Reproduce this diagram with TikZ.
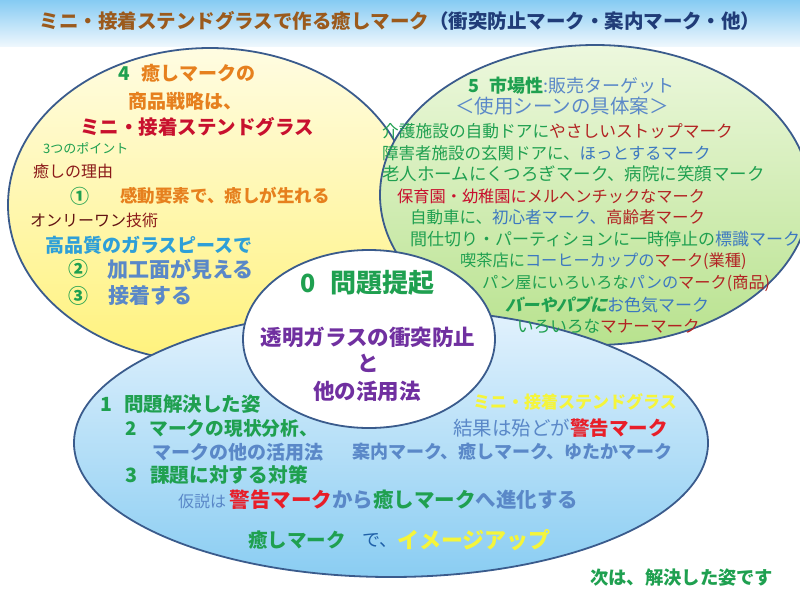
\documentclass[tikz,border=0pt]{standalone}
\usepackage{fontspec}
\setmainfont{Noto Sans CJK JP}
\usetikzlibrary{shapes.geometric}
\definecolor{cgreen}{HTML}{1FA050}
\definecolor{corange}{HTML}{E6801E}
\definecolor{ccrimson}{HTML}{C8102E}
\definecolor{cbrown}{HTML}{8B1A1A}
\definecolor{csky}{HTML}{2E9FD8}
\definecolor{cslate}{HTML}{5A88C8}
\definecolor{cpurple}{HTML}{7030A0}
\definecolor{cred}{HTML}{E81E28}
\definecolor{cyellow}{HTML}{F5F53A}
\definecolor{cdarkred}{HTML}{B22222}
\definecolor{cblue}{HTML}{3C78C0}
\definecolor{cdkblue}{HTML}{1E5FA8}
\definecolor{ctbrown}{HTML}{9B5A1C}
\definecolor{ctnavy}{HTML}{203C78}
\definecolor{outl}{HTML}{3A5B8C}
\definecolor{bartop}{HTML}{86CBF3}
\definecolor{barbot}{HTML}{EEF7FD}
\definecolor{yeltop}{HTML}{FFFCE2}
\definecolor{yelbot}{HTML}{FFF27C}
\definecolor{grntop}{HTML}{EDF8DE}
\definecolor{grnbot}{HTML}{B8E28E}
\definecolor{blutop}{HTML}{E3F2FD}
\definecolor{blubot}{HTML}{8ACDF2}
\newcommand\fs[1]{\fontsize{#1}{#1}\selectfont}

\begin{document}
\begin{tikzpicture}[x=1pt, y=-1pt,
      blob/.style={ellipse, draw=outl, line width=1.8pt, inner sep=0pt},
      txt/.style={anchor=west, inner sep=0pt},
      mid/.style={inner sep=0pt}
    ]
      \useasboundingbox (0,0) rectangle (800,600);
      \node[anchor=north west, inner sep=0pt, minimum width=800pt, minimum height=46pt,
            top color=bartop, bottom color=barbot] (bar) at (0,0) {};
      \node[mid, font=\fs{19.5}\bfseries] (title) at (400,21)
        {\color{ctbrown}ミニ・接着ステンドグラスで作る癒しマーク\color{ctnavy}（衝突防止マーク・案内マーク・他）};

      \node[blob, minimum width=404pt, minimum height=314pt,
            top color=yeltop, bottom color=yelbot] (e4) at (210,205) {};
      \node[blob, minimum width=430pt, minimum height=300pt,
            top color=grntop, bottom color=grnbot] (e5) at (595,195) {};
      \node[blob, minimum width=634pt, minimum height=268pt,
            top color=blutop, bottom color=blubot] (e1) at (391,443) {};
      \node[blob, minimum width=252pt, minimum height=178pt, fill=white] (e0) at (369,339) {};

      \node[txt, font=\fs{19}\bfseries] (h1) at (118,73) {\color{cgreen}4\hspace{12pt}\color{corange}癒しマークの};
      \node[txt, font=\fs{19}\bfseries, text=corange] (h2) at (128,101) {商品戦略は、};
      \node[txt, font=\fs{19.5}\bfseries, text=ccrimson] (h3) at (80,127) {ミニ・接着ステンドグラス};
      \node[txt, font=\fs{13}, text=cgreen] (h4) at (43,148) {3つのポイント};
      \node[txt, font=\fs{16}, text=cbrown] (h5) at (33,171) {癒しの理由};
      \node[txt, font=\fs{19}\bfseries, text=cgreen] (h6n) at (70,196) {①};
      \node[txt, font=\fs{17.5}\bfseries, text=corange] (h6) at (120,196) {感動要素で、癒しが生れる};
      \node[txt, font=\fs{16}] (h7) at (30,220) {\color{cbrown!70!black}オンリーワン\color{cbrown}技術};
      \node[txt, font=\fs{19}\bfseries, text=csky] (h8) at (45,245) {高品質のガラスピースで};
      \node[txt, font=\fs{20}\bfseries, text=cgreen] (h9n) at (68,269) {②};
      \node[txt, font=\fs{21}\bfseries, text=cslate] (h9) at (107,269) {加工面が見える};
      \node[txt, font=\fs{20}\bfseries, text=cgreen] (h10n) at (68,296) {③};
      \node[txt, font=\fs{21}\bfseries, text=cslate] (h10) at (108,296) {接着する};

      \node[txt, font=\fs{18}] (m1) at (468,86) {\bfseries\color{cgreen}5\hspace{10pt}市場性\mdseries\color{cslate}:販売ターゲット};
      \node[txt, font=\fs{19.5}, text=cslate] (m2) at (455,106) {＜使用シーンの具体案＞};
      \node[txt, font=\fs{16.7}] (m3) at (382,131) {\color{cgreen}介護施設の自動ドアに\color{cdarkred}やさしいストップマーク};
      \node[txt, font=\fs{16.5}] (m4) at (382,153) {\color{cgreen}障害者施設の玄関ドアに、\color{cblue}ほっとするマーク};
      \node[txt, font=\fs{17.5}, text=cgreen] (m5) at (382,174) {老人ホームにくつろぎマーク、病院に笑顔マーク};
      \node[txt, font=\fs{16.2}] (m6) at (397,196) {\color{ccrimson}保育園・幼稚園に\color{cdarkred}メルヘンチックなマーク};
      \node[txt, font=\fs{16.5}] (m7) at (410,217) {\color{cgreen}自動車に、\color{cblue}初心者マーク、\color{cdarkred}高齢者マーク};
      \node[txt, font=\fs{17}] (m8) at (410,239) {\color{cgreen}間仕切り・パーティションに一時停止の\color{cblue}標識マーク};
      \node[txt, font=\fs{16.2}] (m9) at (460,261) {\color{cgreen}喫茶店に\color{cblue}コーヒーカップの\color{cdarkred}マーク(業種)};
      \node[txt, font=\fs{16.2}] (m10) at (482,283) {\color{cgreen}パン屋にいろいろな\color{cblue}パンの\color{cdarkred}マーク(商品)};
      \node[txt, font=\fs{17}] (m11) at (505,305) {{\bfseries\addfontfeature{FakeSlant=0.25}\color{cgreen}バーやパブに}\color{cblue}お色気マーク};
      \node[txt, font=\fs{16.6}] (m12) at (517,326) {\color{cgreen}いろいろな\color{cdarkred}マナーマーク};

      \node[txt, font=\fs{25}\bfseries, text=cgreen] (p1n) at (300,283) {0};
      \node[txt, font=\fs{26}\bfseries, text=cgreen] (p1) at (330,283) {問題提起};
      \node[mid, font=\fs{21.5}\bfseries, text=cpurple] (p2) at (368,337) {透明ガラスの衝突防止};
      \node[mid, font=\fs{21.5}\bfseries, text=cpurple] (p3) at (368,363) {と};
      \node[mid, font=\fs{21.5}\bfseries, text=cpurple] (p4) at (367,391) {他の活用法};

      \node[txt, font=\fs{19.5}\bfseries, text=cgreen] (s1) at (100,404) {1\hspace{12pt}問題解決した姿};
      \node[txt, font=\fs{18.7}\bfseries, text=cgreen] (s2) at (125,428) {2\hspace{13pt}マークの現状分析、};
      \node[txt, font=\fs{19}\bfseries, text=cslate] (s3) at (152,452) {マークの他の活用法};
      \node[txt, font=\fs{18}\bfseries, text=cslate] (s4) at (352,452) {案内マーク、癒しマーク、ゆたかマーク};
      \node[txt, font=\fs{19.7}\bfseries, text=cgreen] (s5) at (125,475) {3\hspace{13pt}課題に対する対策};
      \node[txt, font=\fs{20.5}\bfseries, text=cslate] (s6) at (178,500)
        {{\fs{16}\mdseries 仮説は}\,\color{cred}警告マーク\color{cslate}から\color{cgreen}癒しマーク\color{cslate}へ進化する};
      \node[txt, font=\fs{19.5}\bfseries, text=cgreen] (s7) at (248,540) {癒しマーク};
      \node[txt, font=\fs{18}, text=cdkblue] (s8) at (362,540) {で、};
      \node[txt, font=\fs{22}\bfseries, text=cyellow] (s9) at (397,540) {イメージアップ};
      \node[txt, font=\fs{17}\bfseries, text=cyellow] (s10) at (473,402) {ミニ・接着ステンドグラス};
      \node[txt, font=\fs{19.5}\bfseries, text=cslate] (s11) at (453,428) {\mdseries 結果は殆どが\bfseries\color{cred}警告マーク};

      \node[txt, font=\fs{18.3}\bfseries, text=cgreen] (next) at (590,578) {次は、解決した姿です};
    \end{tikzpicture}
\end{document}
